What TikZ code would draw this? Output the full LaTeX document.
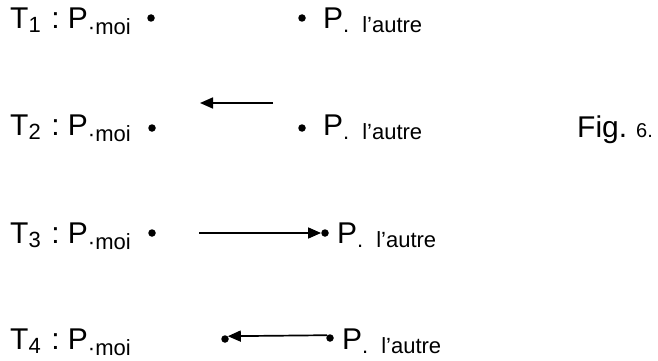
\documentclass[tikz,border=0pt]{standalone}
\usepackage{fontspec}
\setmainfont{Liberation Sans}
\usetikzlibrary{arrows.meta}

\newcommand{\bigf}{\fontsize{30}{32}\selectfont}
\newcommand{\sml}[2][-4pt]{\raisebox{#1}{\fontsize{22}{24}\selectfont #2}}
\newcommand{\moi}[1]{T\sml{#1}\hspace{10.5pt}:~P\sml[-6pt]{\textperiodcentered moi}}
\newcommand{\autre}{P\sml{.\hspace{13pt}l'autre}}

\begin{document}
\begin{tikzpicture}[x=1pt,y=-1pt,
    txt/.style={anchor=base west, inner sep=0pt, font=\bigf},
    pt/.style={circle, fill=black, inner sep=0pt, minimum size=7.5pt},
    fl/.style={line width=1.7pt, -{Triangle[length=13pt,width=11pt]}}]
  \useasboundingbox (0,0) rectangle (658,361);

  % T1
  \node[txt] (t1) at (10,29) {\moi{1}};
  \node[pt] (m1) at (151,18) {};
  \node[pt] (a1) at (302,18) {};
  \node[txt] (p1) at (323,29) {\autre};

  % T2
  \node[txt] (t2) at (10,135) {\moi{2}};
  \node[pt] (m2) at (152,128) {};
  \node[pt] (a2) at (302,128) {};
  \node[txt] (p2) at (323,135) {\autre};
  \coordinate (r2) at (273,103);
  \coordinate (l2) at (200,103);
  \draw[fl] (r2) -- (l2);
  \node[txt] (fig) at (577,137) {Fig.\hspace{9pt}{\fontsize{20}{22}\selectfont 6.}};

  % T3
  \node[txt] (t3) at (10,243) {\moi{3}};
  \node[pt] (m3) at (152,233) {};
  \node[pt] (a3) at (325,233) {};
  \node[txt] (p3) at (337,243) {\autre};
  \coordinate (s3) at (199,233);
  \draw[fl] (s3) -- (a3);

  % T4
  \node[txt] (t4) at (10,349) {\moi{4}};
  \node[pt] (b4) at (225,339) {};
  \node[pt] (a4) at (330,338) {};
  \node[txt] (p4) at (342,349) {\autre};
  \draw[fl] (a4.north west) -- (b4.north east);

\end{tikzpicture}
\end{document}
